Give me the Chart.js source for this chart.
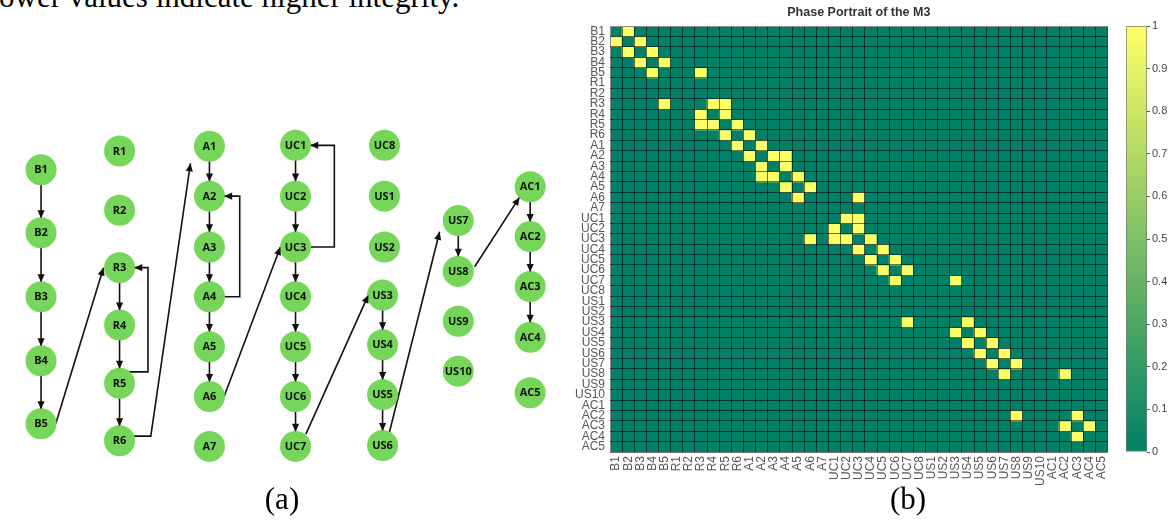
<!DOCTYPE html>
<html>
<head>
<meta charset="utf-8">
<script src="https://cdn.jsdelivr.net/npm/chart.js@4.4.1/dist/chart.umd.min.js"></script>
<style>
  html, body { margin: 0; padding: 0; background: #fff; }
  body { width: 1172px; height: 524px; position: relative; overflow: hidden; }
  .box { position: absolute; }
  .serif { font-family: "Liberation Serif", "Times New Roman", serif; font-size: 31px; line-height: 31px; color: #000; white-space: nowrap; }
</style>
</head>
<body>
<div class="box serif" style="left:-1px;top:-19px">ower values indicate higher integrity.</div>
<canvas id="graph" class="box" style="left:0;top:0" width="575" height="524"></canvas>
<canvas id="heat" class="box" style="left:560px;top:0" width="560" height="524"></canvas>
<canvas id="cbar" class="box" style="left:1120px;top:0" width="52" height="524"></canvas>
<div class="box serif" style="left:232px;top:483px;width:100px;text-align:center">(a)</div>
<div class="box serif" style="left:858px;top:483px;width:100px;text-align:center">(b)</div>
<script>
// states, shared by the diagram and the matrix
const states = ["B1","B2","B3","B4","B5","R1","R2","R3","R4","R5","R6",
  "A1","A2","A3","A4","A5","A6","A7",
  "UC1","UC2","UC3","UC4","UC5","UC6","UC7","UC8",
  "US1","US2","US3","US4","US5","US6","US7","US8","US9","US10",
  "AC1","AC2","AC3","AC4","AC5"]

// diagram layout (diagram units)
const nodeX = [27,27,27,27,27, 110,110,110,110,110,110,
  205,205,205,205,205,205,205,
  296,296,296,296,296,296,296,390,
  390,390,388,388,388,388,468,468,468,468,
  544,544,544,544,544]
const nodeY = [164,231,299,367,434, 144,207,268,329,391,452,
  139,192,246,299,352,405,458,
  138,192,246,299,352,405,458,138,
  192,246,297,350,403,457,218,272,325,378,
  182,235,288,342,401]

// transitions drawn in (a)
const arrows = [
  ["B1","B2"],["B2","B3"],["B3","B4"],["B4","B5"],["B5","R3"],
  ["R3","R4"],["R4","R5"],["R5","R6"],["R5","R3"],["R6","A1"],
  ["A1","A2"],["A2","A3"],["A3","A4"],["A4","A5"],["A5","A6"],["A4","A2"],["A6","UC3"],
  ["UC1","UC2"],["UC2","UC3"],["UC3","UC4"],["UC4","UC5"],["UC5","UC6"],["UC6","UC7"],["UC3","UC1"],["UC7","US3"],
  ["US3","US4"],["US4","US5"],["US5","US6"],["US6","US7"],["US7","US8"],["US8","AC1"],
  ["AC1","AC2"],["AC2","AC3"],["AC3","AC4"]
]

// non-zero cells of the matrix in (b), symmetric
const links = [
  ["B1","B2"],["B2","B3"],["B3","B4"],["B4","B5"],["B5","R3"],
  ["R3","R4"],["R3","R5"],["R4","R5"],["R5","R6"],["R6","A1"],
  ["A1","A2"],["A2","A3"],["A2","A4"],["A3","A4"],["A4","A5"],["A5","A6"],["A6","UC3"],
  ["UC1","UC2"],["UC1","UC3"],["UC2","UC3"],["UC3","UC4"],["UC4","UC5"],["UC5","UC6"],["UC6","UC7"],["UC7","US3"],
  ["US3","US4"],["US4","US5"],["US5","US6"],["US6","US7"],["US7","US8"],["US8","AC2"],
  ["AC2","AC3"],["AC3","AC4"]
]

const colorbarTicks = [0, 0.1, 0.2, 0.3, 0.4, 0.5, 0.6, 0.7, 0.8, 0.9, 1]
const chartTitle = "Phase Portrait of the M3"

// ---------- (a) diagram ----------
const RADIUS = 15.5
const NODE_GREEN = "#76d65a"

// how each arrow leaves / enters a node (angles in degrees, 0 = east, 90 = south)
const routes = {
  "B5>R3":   { from: 0, to: 180, toDist: 17 },
  "R5>R3":   { from: -52, to: 0, loop: 30 },
  "R6>A1":   { from: -18, fromDist: 16, to: 138, toDist: 27, elbow: 33 },
  "A4>A2":   { from: 0, to: 0, loop: 32 },
  "A6>UC3":  { from: 0, to: 180, toDist: 16 },
  "UC3>UC1": { from: 0, to: 0, loop: 41 },
  "UC7>US3": { from: -50, fromDist: 17, to: 180, toDist: 15 },
  "US6>US7": { from: -63, fromDist: 16, to: 149, toDist: 23 },
  "US8>AC1": { from: -16, fromDist: 18, to: 135, toDist: 16 }
}

function anchor(name, angle, dist) {
  const i = states.indexOf(name)
  const a = angle * Math.PI / 180
  return { x: nodeX[i] + dist * Math.cos(a), y: nodeY[i] + dist * Math.sin(a) }
}

const edgeSets = arrows.map(([from, to]) => {
  const r = routes[from + ">" + to] || {}
  const start = anchor(from, r.from ?? 90, r.fromDist ?? RADIUS)
  const end = anchor(to, r.to ?? -90, r.toDist ?? RADIUS)
  const cx = nodeX[states.indexOf(from)]
  const pts = [start]
  if (r.loop)
    pts.push({ x: cx + r.loop, y: start.y }, { x: cx + r.loop, y: end.y })
  if (r.elbow)
    pts.push({ x: cx + r.elbow, y: start.y })
  pts.push(end)
  return {
    data: pts,
    arrow: true,
    showLine: true,
    borderColor: "#111",
    borderWidth: 1.6,
    pointRadius: 0,
    tension: 0,
    order: 1
  }
})

const graphDecor = {
  id: "graphDecor",
  afterDatasetsDraw(chart) {
    const ctx = chart.ctx
    chart.data.datasets.forEach((ds, i) => {
      const pts = chart.getDatasetMeta(i).data
      if (ds.arrow) {
        const a = pts[pts.length - 2], b = pts[pts.length - 1]
        ctx.save()
        ctx.translate(b.x, b.y)
        ctx.rotate(Math.atan2(b.y - a.y, b.x - a.x))
        ctx.beginPath()
        ctx.moveTo(0, 0)
        ctx.lineTo(-8, -3.6)
        ctx.lineTo(-8, 3.6)
        ctx.closePath()
        ctx.fillStyle = "#111"
        ctx.fill()
        ctx.restore()
      }
      if (ds.nodes) {
        ctx.save()
        ctx.font = 'bold 11px "Open Sans", "DejaVu Sans", sans-serif'
        ctx.fillStyle = "#111"
        ctx.textAlign = "center"
        ctx.textBaseline = "middle"
        pts.forEach((p, j) => ctx.fillText(states[j], p.x, p.y + 0.5))
        ctx.restore()
      }
    })
  }
}

new Chart(document.getElementById("graph"), {
  type: "scatter",
  data: {
    datasets: [
      {
        nodes: true,
        data: states.map((s, i) => ({ x: nodeX[i], y: nodeY[i] })),
        pointRadius: RADIUS,
        pointHoverRadius: RADIUS,
        pointBackgroundColor: NODE_GREEN,
        pointBorderWidth: 0,
        order: 0
      },
      ...edgeSets
    ]
  },
  options: {
    responsive: false,
    animation: false,
    layout: { padding: 0 },
    plugins: { legend: { display: false }, tooltip: { enabled: false } },
    scales: {
      x: { type: "linear", min: 0, max: 575, display: false },
      y: { type: "linear", min: 0, max: 524, reverse: true, display: false }
    }
  },
  plugins: [graphDecor]
})

// ---------- (b) matrix ----------
function summer(v) {
  return `rgb(${Math.round(255 * v)},${Math.round(128 + 127 * v)},102)`
}

const matrix = states.map(() => states.map(() => 0))
for (const [a, b] of links) {
  const i = states.indexOf(a), j = states.indexOf(b)
  matrix[i][j] = 1
  matrix[j][i] = 1
}

const TICK_FONT = { family: '"Liberation Sans", Arial, sans-serif', size: 12 }
const TICK_COLOR = "#555"
const edgeGrid = c => (c.index === 0 || c.index === states.length) ? "#8c8c8c" : "rgba(0,0,0,0.55)"

const heatTitle = {
  id: "heatTitle",
  afterDraw(chart) {
    const { ctx, chartArea } = chart
    ctx.save()
    ctx.font = 'bold 12.5px "Liberation Sans", Arial, sans-serif'
    ctx.fillStyle = "#333"
    ctx.textAlign = "center"
    ctx.textBaseline = "middle"
    ctx.fillText(chartTitle, (chartArea.left + chartArea.right) / 2, 13)
    ctx.restore()
  }
}

new Chart(document.getElementById("heat"), {
  type: "bar",
  data: {
    labels: states,
    datasets: states.map((row, r) => ({
      label: row,
      data: states.map(() => [r, r + 1]),
      backgroundColor: matrix[r].map(summer),
      borderWidth: 0,
      grouped: false,
      barPercentage: 1,
      categoryPercentage: 1,
      xAxisID: "x",
      yAxisID: "y"
    }))
  },
  options: {
    responsive: false,
    animation: false,
    layout: { padding: { top: 26, right: 4, left: 0, bottom: 0 } },
    plugins: { legend: { display: false }, tooltip: { enabled: false } },
    scales: {
      x: {
        type: "category",
        offset: true,
        grid: { offset: true, drawTicks: false, color: edgeGrid, lineWidth: 1, z: 1 },
        border: { display: false },
        ticks: { autoSkip: false, minRotation: 90, maxRotation: 90, padding: 4, color: TICK_COLOR, font: TICK_FONT },
        afterFit: s => { s.height = 72 }
      },
      y: { type: "linear", min: 0, max: states.length, reverse: true, display: false },
      yl: {
        type: "category",
        axis: "y",
        position: "left",
        labels: states,
        offset: true,
        grid: { offset: true, drawTicks: false, color: edgeGrid, lineWidth: 1, z: 1 },
        border: { display: false },
        ticks: { autoSkip: false, padding: 5, color: TICK_COLOR, font: TICK_FONT },
        afterFit: s => { s.width = 50 }
      }
    }
  },
  plugins: [heatTitle]
})

// ---------- colour bar ----------
new Chart(document.getElementById("cbar"), {
  type: "bar",
  data: {
    labels: [""],
    datasets: [{
      data: [[colorbarTicks[0], colorbarTicks[colorbarTicks.length - 1]]],
      backgroundColor: ctx => {
        const area = ctx.chart.chartArea
        if (!area) return summer(0)
        const g = ctx.chart.ctx.createLinearGradient(0, area.bottom, 0, area.top)
        g.addColorStop(0, summer(0))
        g.addColorStop(1, summer(1))
        return g
      },
      borderColor: "#777",
      borderWidth: 1,
      borderSkipped: false,
      barPercentage: 1,
      categoryPercentage: 1
    }]
  },
  options: {
    responsive: false,
    animation: false,
    layout: { padding: { top: 26, bottom: 72, left: 6, right: 0 } },
    plugins: { legend: { display: false }, tooltip: { enabled: false } },
    scales: {
      x: { display: false },
      y: {
        position: "right",
        min: 0,
        max: 1,
        afterBuildTicks: s => { s.ticks = colorbarTicks.map(v => ({ value: v })) },
        grid: { drawOnChartArea: false, tickLength: 3, color: "#555" },
        border: { display: false },
        ticks: {
          padding: 2,
          color: "#444",
          font: { family: '"Liberation Sans", Arial, sans-serif', size: 11 },
          callback: v => String(Math.round(v * 10) / 10)
        },
        afterFit: s => { s.width = 25 }
      }
    }
  }
})
</script>
</body>
</html>
